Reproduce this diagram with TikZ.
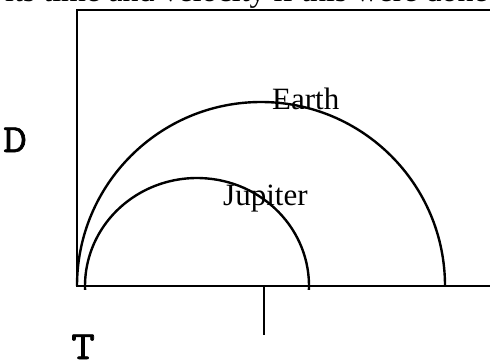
\documentclass[tikz,border=0pt]{standalone}
\usepackage{fontspec}
\setmainfont{Liberation Serif}
\newfontfamily\monob{Latin Modern Mono}[FakeBold=1.5]
\begin{document}
\begin{tikzpicture}[x=1bp,y=1bp,
  lbl/.style={anchor=base west,inner sep=0pt,font=\fontsize{31bp}{36bp}\selectfont},
  toplbl/.style={anchor=base west,inner sep=0pt,font=\fontsize{32bp}{36bp}\selectfont},
  mlbl/.style={anchor=base west,inner sep=0pt,font=\monob\fontsize{40bp}{44bp}\selectfont,xscale=1.15},
  axisline/.style={line width=2.8bp},
  orbit/.style={line width=2.4bp}]
\useasboundingbox (0,0) rectangle (490,360);
\clip (0,0) rectangle (490,360);
\fill[white] (0,0) rectangle (490,360);
\node[toplbl] (top) at (5,358.5) {its time and velocity if this were done};
\coordinate (tl) at (77,350);
\coordinate (tr) at (490,350);
\coordinate (o) at (77,74);
\coordinate (br) at (490,74);
\coordinate (tick) at (264,74);
\coordinate (tickend) at (264,25);
\draw[axisline] (tr) -- (tl) -- (o) -- (br);
\draw[orbit] (tick) -- (tickend);
\coordinate (ea) at (445,74);
\draw[orbit] (ea) arc[start angle=0,end angle=180,radius=184];
\coordinate (ja) at (197,74);
\draw[orbit] ([shift={(-2:112 and 108)}]ja) arc[start angle=-2,end angle=182,x radius=112,y radius=108];
\node[lbl] (earth) at (272,251) {Earth};
\node[lbl] (jup) at (223,155) {Jupiter};
\node[mlbl] (D) at (3,208) {D};
\node[mlbl] (T) at (71,1) {T};
\end{tikzpicture}
\end{document}
